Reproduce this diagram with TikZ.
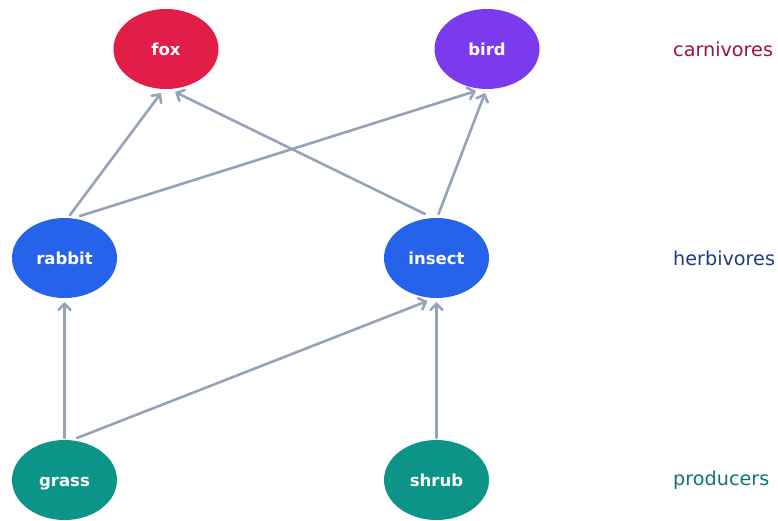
\documentclass[tikz,border=0pt]{standalone}
\usepackage{fontspec}
\setmainfont{DejaVu Sans}
\usetikzlibrary{arrows.meta,shapes.geometric,calc}
\definecolor{foxc}{HTML}{E11D48}
\definecolor{birdc}{HTML}{7C3AED}
\definecolor{herbc}{HTML}{2563EB}
\definecolor{prodc}{HTML}{0D9488}
\definecolor{edgec}{HTML}{94A3B8}
\definecolor{carnl}{HTML}{9F1239}
\definecolor{herbl}{HTML}{1E3A8A}
\definecolor{prodl}{HTML}{0F766E}
\tikzset{
  animal/.style={ellipse, minimum width=105pt, minimum height=80pt, inner sep=0pt,
    text height=12.4pt, text depth=0pt,
    text=white, font=\fontsize{16.5pt}{18pt}\selectfont\bfseries},
  feed/.style={draw=edgec, line width=2.6pt, line cap=round,
    -{Straight Barb[length=6pt,width=12pt,line cap=round]}},
  layer/.style={anchor=west, inner sep=0pt, font=\fontsize{19.2pt}{21pt}\selectfont}
}
\begin{document}
\begin{tikzpicture}[x=1pt,y=1pt]
\useasboundingbox (0,0) rectangle (778,-520);
\node[animal, fill=foxc] (fox) at (166,-49) {fox};
\node[animal, fill=birdc] (bird) at (487,-49) {bird};
\node[animal, fill=herbc] (rabbit) at (64.5,-258) {rabbit};
\node[animal, fill=herbc] (insect) at (436.5,-258) {insect};
\node[animal, fill=prodc] (grass) at (64.5,-480) {grass};
\node[animal, fill=prodc] (shrub) at (436.5,-480) {shrub};
\node[layer, text=carnl] (lc) at (673,-49) {carnivores};
\node[layer, text=herbl] (lh) at (673,-258) {herbivores};
\node[layer, text=prodl] (lp) at (673,-480) {producers};
\draw[feed] ($(rabbit.center)+(5.5,43)$) -- ($(fox.center)+(-5,-44)$);
\draw[feed] ($(insect.center)+(-11.5,44)$) -- ($(fox.center)+(9,-43)$);
\draw[feed] ($(rabbit.center)+(15.5,42)$) -- ($(bird.center)+(-11,-42)$);
\draw[feed] ($(insect.center)+(2,44)$) -- ($(bird.center)+(-2,-44)$);
\draw[feed] ($(grass.center)+(0,42)$) -- ($(rabbit.center)+(0,-44)$);
\draw[feed] ($(grass.center)+(12.5,42)$) -- ($(insect.center)+(-9,-43)$);
\draw[feed] ($(shrub.center)+(0,42)$) -- ($(insect.center)+(0,-44)$);
\end{tikzpicture}
\end{document}
